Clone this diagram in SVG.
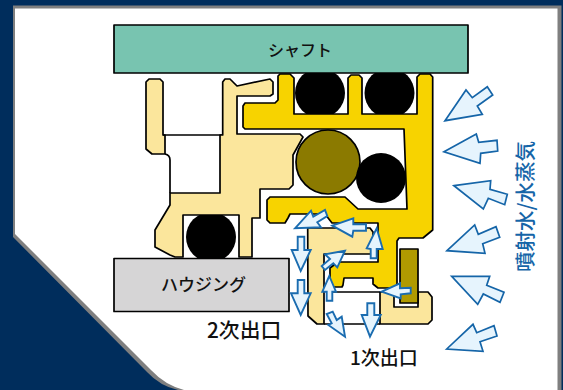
<svg xmlns="http://www.w3.org/2000/svg" width="563" height="390" viewBox="0 0 563 390">
<style>
.o{stroke:#000;stroke-width:1.7;stroke-linejoin:round}
.cream{fill:#fbe69c}
.yel{fill:#f7d300}
.blk{fill:#000}
.ln{fill:none;stroke:#000;stroke-width:1.7}
.arr{fill:#e6f4fd;stroke:#1565a8;stroke-width:1.7;stroke-linejoin:miter}
.arrs{fill:#e6f4fd;stroke:#1a6cb0;stroke-width:1.9;stroke-linejoin:miter}
text{font-family:"Noto Sans CJK JP","Noto Sans",sans-serif;fill:#111;font-weight:500}
</style>
<rect width="563" height="390" fill="#002d5c"/>
<g id="panel">
<path d="M13,5.500H561.500V390H178Q160,386 147,372L13,237Z" fill="#7f7f7f"/>
<path d="M15,8.500H557.500V390H184Q165,385 151,370L15,234Z" fill="#fff"/>
</g>
<g id="seals-back">
<circle class="blk" cx="320" cy="93" r="25"/>
<circle class="blk" cx="389.500" cy="93" r="25"/>
<circle class="blk" cx="211" cy="237" r="25"/>
</g>
<g id="shaft"><rect class="o" x="114" y="25" width="354" height="48" fill="#78c4b0"/><text x="300" y="56" font-size="16" text-anchor="middle">シャフト</text></g>
<g id="housing"><rect class="o" x="114" y="258.500" width="175" height="53" fill="#d6d5d6"/><text x="203.500" y="291" font-size="17" text-anchor="middle">ハウジング</text></g>
<g id="lip-left"><path class="o cream" d="M146,82L149,79H160L163,82V135H165V154H152L146,149Z"/><path class="ln" d="M163,135H222.700M165,154Q170,155 170,160V193"/></g>
<g id="seal-body"><path class="o cream" d="M222.700,82L225,79H230L237,86L270,79L273,82V94L270,96H237V134H300L303,137L293,155V185L289,189H260V218H252V257H239V215H183V257H175L170,255L155,247V230L170,205V193H220V135H222.700Z"/></g>
<g id="yellow-ring"><path class="o yel" d="M243,106L245,103H275L278,100V76L280,74H290L294,78V114H348V78L351,75H359L362,78V114H417V77L420,74H430L432.700,77V230L423,238H399L397,241V288H378L373,284V278H344L343,285L342,287H330V268L338,262H378V223H332L325,214H290L288,218L285,223H270L267,220V200L270,197H345L358,209H407L404,129H245L243,127Z"/></g>
<g id="inner-cream"><path class="o cream" d="M307.700,228H370L373,232V254H324V324H317L308,316Z"/></g>
<g id="outlet-body"><path class="o cream" d="M380,292H394V307H418V292H428L432,297V320L428,324H380Z"/><path class="ln" d="M324,324H380M330,292H380"/></g>
<g id="olive-rect"><rect class="o" x="400" y="249" width="18" height="54" fill="#b09a00"/></g>
<g id="spring"><circle class="o" cx="328" cy="162" r="32" fill="#8b7a00"/></g>
<g id="seal-mid"><circle class="blk" cx="381" cy="178" r="25"/></g>
<g id="connectors">
<polygon class="arr" points="445,120.700 466,90 472.300,97.700 487.300,86.700 492.700,95 477.300,106 482.300,114.300"/>
<polygon class="arr" points="444,151.700 476.300,134 478.700,142.300 497,140.300 497.700,151 480.700,153.300 480,163.300"/>
<polygon class="arr" points="454,185.700 490.700,180.700 490,189.300 507.300,194.300 504.700,204.700 488.300,198.300 483.300,209"/>
<polygon class="arr" points="447,250.700 474.700,225 478.300,234.300 496,226.700 499.700,237.300 482.700,243.700 485,253.300"/>
<polygon class="arr" points="451.700,276.300 489.700,276.300 486.700,285.300 504,292.300 500,302.300 483.300,294 477.700,304.300"/>
<polygon class="arr" points="446.700,349 473,324.300 476.700,332.700 494,325.700 497,336 480,341.700 483,351.300"/>
<polygon class="arrs" points="295,228.300 311,210.700 313.300,216.700 325,210 327.300,216 317.300,222.300 321,227.300"/>
<polygon class="arrs" points="332.300,225.700 353.300,218.300 353.300,224.300 366,224.300 366,230.700 353.300,230.700 352.300,236.700"/>
<polygon class="arrs" points="376.700,228.300 382.700,249 376.700,249 376.700,258.300 370.700,258.300 370.700,249 366.700,248.300"/>
<polygon class="arrs" points="345,250.700 325,254.300 330,259 321.700,266 325,270 333.300,263.300 337.300,267.300"/>
<polygon class="arrs" points="329.300,276 336,291.700 332.300,291.700 332.300,300.700 326.700,300.700 326.700,291.700 322.300,291.700"/>
<polygon class="arrs" points="381.700,291.700 400,283.300 400,288.300 410.700,287.700 410.700,293.300 400.700,294.300 400.700,298.300"/>
<polygon class="arrs" points="297.700,236.700 304.300,236.700 304.300,250 310.700,250 300.700,271 291.700,250 297.700,250"/>
<polygon class="arrs" points="297.700,280 304.300,280 304.300,293.300 310.700,293.300 300.700,315 291,293.300 297.700,293.300"/>
<polygon class="arrs" points="345,336.700 341.700,316.700 336.700,320 332.700,311.700 326.700,314 331.700,323.300 328.300,325"/>
<polygon class="arrs" points="367.300,303.300 374.300,303.300 374.300,315 380.700,315 370,336.700 361.700,315 367.300,315"/>
</g>
<g id="labels">
<text x="207" y="338" font-size="20.800">2次出口</text>
<text x="350" y="365" font-size="19">1次出口</text>
<text transform="translate(532.500,272) rotate(-90)" font-size="20.500" style="fill:#1565a8">噴射水/水蒸気</text>
</g>
</svg>
